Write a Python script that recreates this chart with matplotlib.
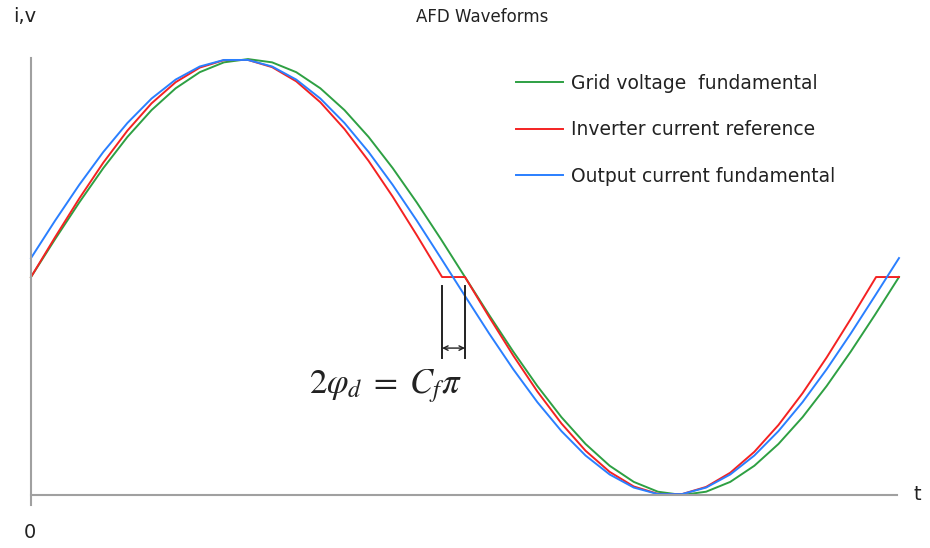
import matplotlib
matplotlib.use('Agg')
import matplotlib.pyplot as plt

# Datos (angulo de la tension de red en grados, valores en p.u.)
theta = [0, 10, 20, 30, 40, 50, 60, 70, 80, 90, 100, 110, 120, 130, 140, 150, 160, 170, 180,
         190, 200, 210, 220, 230, 240, 250, 260, 270, 280, 290, 300, 310, 320, 330, 340, 350, 360]
v_red = [0, .174, .342, .500, .643, .766, .866, .940, .985, 1.000, .985, .940, .866, .766, .643, .500, .342, .174, 0,
         -.174, -.342, -.500, -.643, -.766, -.866, -.940, -.985, -1.000, -.985, -.940, -.866, -.766, -.643, -.500,
         -.342, -.174, 0]
i_salida = [.087, .259, .423, .574, .707, .819, .906, .966, .996, .996, .966, .906, .819, .707, .574, .423, .259,
            .087, -.087, -.259, -.423, -.574, -.707, -.819, -.906, -.966, -.996, -.996, -.966, -.906, -.819, -.707,
            -.574, -.423, -.259, -.087, .087]

theta_ref = [0, 10, 20, 30, 40, 50, 60, 70, 80, 90, 100, 110, 120, 130, 140, 150, 160, 170, 170.5, 180,
             190, 200, 210, 220, 230, 240, 250, 260, 270, 280, 290, 300, 310, 320, 330, 340, 350, 350.5, 360]
i_ref = [0, .183, .360, .525, .672, .797, .894, .961, .995, .996, .963, .898, .802, .679, .533, .369, .192, .009, 0, 0,
         -.183, -.360, -.525, -.672, -.797, -.894, -.961, -.995, -.996, -.963, -.898, -.802, -.679, -.533, -.369,
         -.192, -.009, 0, 0]

etiquetas = ['Grid voltage  fundamental', 'Inverter current reference', 'Output current fundamental']
zona_muerta = [170.5, 180]  # tramo plano de la referencia (2*phi_d)

fig = plt.figure(figsize=(9.3, 5.48), dpi=100)
ax = fig.add_axes([31/930, 43/548, 868/930, 447/548])
ax.set_xlim(0, 360)
ax.set_ylim(-1.046, 1.005)

ax.plot(theta, v_red, color='#2ea043', lw=1.4, label=etiquetas[0], clip_on=False)
ax.plot(theta_ref, i_ref, color='#f42222', lw=1.4, label=etiquetas[1], clip_on=False)
ax.plot(theta, i_salida, color='#2a7fff', lw=1.4, label=etiquetas[2], clip_on=False)

# Ejes simples
for s in ['top', 'right']:
    ax.spines[s].set_visible(False)
ax.spines['left'].set_position(('data', 0))
ax.spines['bottom'].set_position(('data', -1))
ax.spines['bottom'].set_bounds(0, 359)
for s in ['left', 'bottom']:
    ax.spines[s].set_color('#a0a0a0')
    ax.spines[s].set_linewidth(1.5)
ax.set_xticks([])
ax.set_yticks([])

# Marcas del intervalo plano
for xm in zona_muerta:
    ax.plot([xm, xm], [-0.04, -0.37], color='#222222', lw=1.4)
ax.annotate('', xy=(zona_muerta[0], -0.326), xytext=(zona_muerta[1], -0.326),
            arrowprops=dict(arrowstyle='<->', color='#222222', lw=1.0, shrinkA=0, shrinkB=0,
                            mutation_scale=8))
ax.text(147, -0.50, r'$2\varphi_d\;=\;C_f\pi$', fontsize=25, ha='center', va='center',
        math_fontfamily='stix', color='#222222')

ax.legend(loc='upper left', bbox_to_anchor=(516/930, 1 - 74/548), bbox_transform=fig.transFigure,
          frameon=False, fontsize=13.5, handlelength=2.5, handletextpad=0.43, labelspacing=1.46,
          borderpad=0, borderaxespad=0, labelcolor='#222222')

fig.text(482/930, 1 - 17/548, 'AFD Waveforms', ha='center', va='center', fontsize=12, color='#222222')
fig.text(25/930, 1 - 17/548, 'i,v', ha='center', va='center', fontsize=14, color='#222222')
fig.text(917/930, 1 - 495/548, 't', ha='center', va='center', fontsize=14, color='#222222')
fig.text(30/930, 1 - 533/548, '0', ha='center', va='center', fontsize=14, color='#222222')

plt.savefig('out.png', dpi=100)
